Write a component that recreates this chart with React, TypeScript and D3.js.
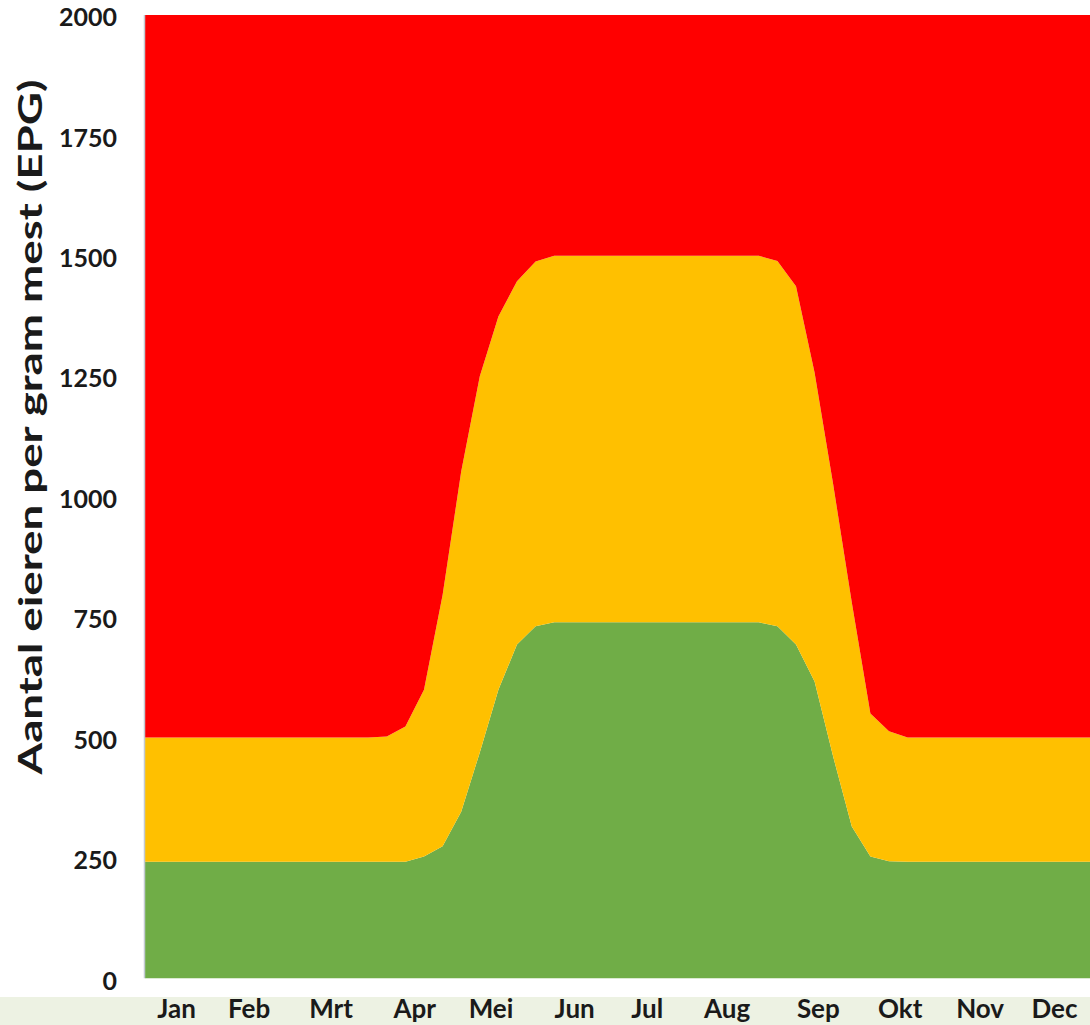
import React, { useRef, useEffect } from 'react'
import * as d3 from 'd3'

// weeks 0..51
const weeks: number[] = d3.range(52)

// lower limit (green band top), EPG
const lowerLimit: number[] = [
    242, 242, 242, 242, 242, 242, 242, 242, 242, 242, 242, 242, 242, 242,
    242, 253, 274, 346, 469, 599, 693, 731, 739, 739, 739, 739, 739, 739,
    739, 739, 739, 739, 739, 739, 731, 693, 616, 460, 315, 253, 243, 242,
    242, 242, 242, 242, 242, 242, 242, 242, 242, 242,
]

// upper limit (yellow band top), EPG
const upperLimit: number[] = [
    500, 500, 500, 500, 500, 500, 500, 500, 500, 500, 500, 500, 500, 502,
    523, 599, 796, 1052, 1250, 1374, 1447, 1488, 1500, 1500, 1500, 1500, 1500, 1500,
    1500, 1500, 1500, 1500, 1500, 1500, 1489, 1437, 1257, 1025, 780, 550, 513, 500,
    500, 500, 500, 500, 500, 500, 500, 500, 500, 500,
]

const yMax = 2000
const yTicks: number[] = [0, 250, 500, 750, 1000, 1250, 1500, 1750, 2000]

const months: string[] = ['Jan', 'Feb', 'Mrt', 'Apr', 'Mei', 'Jun', 'Jul', 'Aug', 'Sep', 'Okt', 'Nov', 'Dec']
// label position, in weeks
const monthPos: number[] = [1.7, 5.6, 10.0, 14.5, 18.6, 23.1, 27.0, 31.3, 36.2, 40.6, 44.9, 48.9]

const yTitle = 'Aantal eieren per gram mest (EPG)'

const EpgChart: React.FC = () => {
    const svgRef = useRef<SVGSVGElement>(null)
    const width = 1090
    const height = 1025

    useEffect(() => {
        const svg = d3.select(svgRef.current)
        svg.selectAll('*').remove()
        svg.attr('width', width).attr('height', height)

        const left = 145
        const top = 15
        const bottom = 978.3
        const step = 18.6

        const x = d3.scaleLinear().domain([0, 51]).range([left, left + 51 * step])
        const y = d3.scaleLinear().domain([0, yMax]).range([bottom, top])

        // lichtgroene band onderaan
        svg.append('rect')
            .attr('x', 0)
            .attr('y', 997)
            .attr('width', width)
            .attr('height', height - 997)
            .attr('fill', '#edf2e3')

        const plot = svg.append('g')

        const band = (lo: (i: number) => number, hi: (i: number) => number) =>
            d3
                .area<number>()
                .x((i) => x(i))
                .y0((i) => y(lo(i)))
                .y1((i) => y(hi(i)))(weeks)

        plot.append('path').attr('d', band(() => 0, (i) => lowerLimit[i])).attr('fill', '#70ad47')
        plot.append('path')
            .attr('d', band((i) => lowerLimit[i], (i) => upperLimit[i]))
            .attr('fill', '#ffc000')
        plot.append('path').attr('d', band((i) => upperLimit[i], () => yMax)).attr('fill', '#ff0000')

        // y-as lijn
        svg.append('line')
            .attr('x1', left - 0.5)
            .attr('x2', left - 0.5)
            .attr('y1', top)
            .attr('y2', bottom)
            .attr('stroke', '#c3cad2')
            .attr('stroke-width', 1.5)

        // y labels
        svg.append('g')
            .selectAll('text')
            .data(yTicks)
            .enter()
            .append('text')
            .attr('x', 117)
            .attr('y', (d) => y(d))
            .attr('dy', '0.45em')
            .attr('text-anchor', 'end')
            .style('font-family', 'Lato, sans-serif')
            .style('font-weight', 700)
            .style('font-size', '25px')
            .style('fill', '#1a1a1a')
            .text((d) => d)

        // maand labels
        svg.append('g')
            .selectAll('text')
            .data(months)
            .enter()
            .append('text')
            .attr('x', (d, i) => x(monthPos[i]))
            .attr('y', 1018)
            .attr('text-anchor', 'middle')
            .style('font-family', 'Lato, sans-serif')
            .style('font-weight', 700)
            .style('font-size', '26px')
            .style('fill', '#1a1a1a')
            .text((d) => d)

        // y titel
        svg.append('text')
            .attr('transform', `translate(42, 427) rotate(-90)`)
            .attr('text-anchor', 'middle')
            .attr('textLength', 695)
            .attr('lengthAdjust', 'spacingAndGlyphs')
            .style('font-family', 'Lato, sans-serif')
            .style('font-weight', 700)
            .style('font-size', '32px')
            .style('fill', '#1a1a1a')
            .text(yTitle)
    }, [])

    return <svg ref={svgRef} style={{ position: 'absolute', left: 0, top: 0 }} />
}

export default function App() {
    return <EpgChart />
}
